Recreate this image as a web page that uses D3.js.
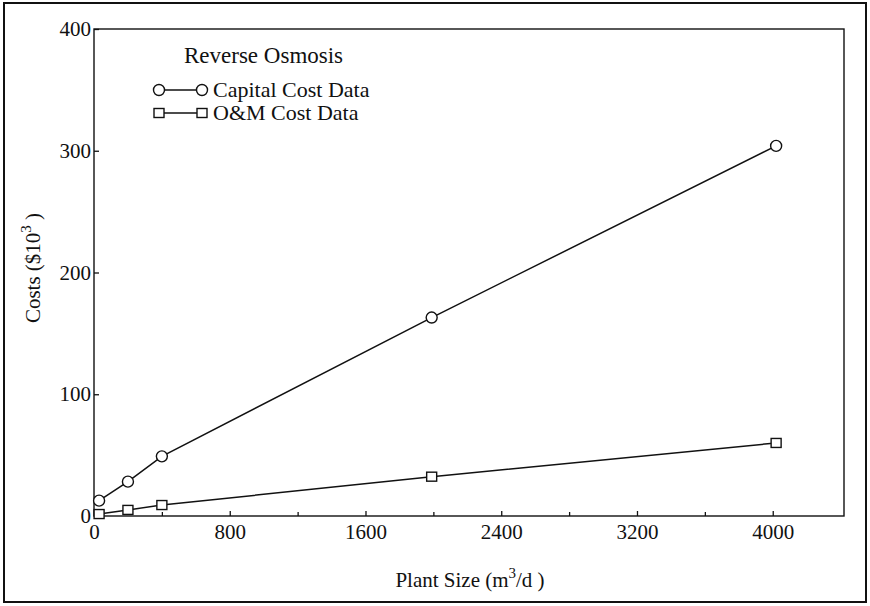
<!DOCTYPE html>
<html>
<head>
<meta charset="utf-8">
<script src="https://cdn.jsdelivr.net/npm/d3@7"></script>
<style>
  body { margin: 0; background: #fff; }
  svg { display: block; font-family: "Liberation Serif", "DejaVu Serif", serif; }
  .axis path, .axis line { stroke: #111; stroke-width: 1.3; }
  .axis text { font-size: 21px; fill: #111; font-family: "Liberation Serif", serif; }
</style>
</head>
<body>
<div id="chart"></div>
<script>
// data
const plantSize = [30, 200, 400, 1990, 4020];
const capitalCost = [12.6, 28.2, 49, 163, 304];
const omCost = [1.6, 5, 9, 32.3, 60];
const xTicks = [0, 800, 1600, 2400, 3200, 4000];
const xMinorTicks = [400, 1200, 2000, 2800, 3600];
const yTicks = [0, 100, 200, 300, 400];

const width = 870, height = 606;
const svg = d3.select("#chart").append("svg")
    .attr("width", width)
    .attr("height", height);

// outer border
svg.append("rect")
    .attr("x", 4).attr("y", 3)
    .attr("width", 862).attr("height", 599)
    .attr("fill", "none")
    .attr("stroke", "#111")
    .attr("stroke-width", 2);

const x = d3.scaleLinear().domain([0, 4420]).range([94, 844]);
const y = d3.scaleLinear().domain([0, 400]).range([516, 29]);

// plot box
svg.append("rect")
    .attr("x", x(0)).attr("y", y(400))
    .attr("width", x(4420) - x(0)).attr("height", y(0) - y(400))
    .attr("fill", "none")
    .attr("stroke", "#111")
    .attr("stroke-width", 1.4);

// x axis, ticks pointing inward
const xAxis = svg.append("g")
    .attr("class", "axis")
    .attr("transform", `translate(0,${y(0)})`)
    .call(d3.axisBottom(x).tickValues(xTicks).tickSize(-5).tickPadding(8).tickFormat(d3.format("d")));
xAxis.select(".domain").remove();

svg.append("g")
    .attr("class", "axis")
    .attr("transform", `translate(0,${y(0)})`)
    .call(d3.axisBottom(x).tickValues(xMinorTicks).tickSize(-4).tickFormat(""))
    .select(".domain").remove();

const yAxis = svg.append("g")
    .attr("class", "axis")
    .attr("transform", `translate(${x(0)},0)`)
    .call(d3.axisLeft(y).tickValues(yTicks).tickSize(-5).tickPadding(3));
yAxis.select(".domain").remove();

// axis titles
const xTitle = svg.append("text")
    .attr("x", 470).attr("y", 587)
    .attr("text-anchor", "middle")
    .attr("font-size", 21)
    .attr("fill", "#111");
xTitle.append("tspan").text("Plant Size (m");
xTitle.append("tspan").attr("dy", -9).attr("font-size", 15).text("3");
xTitle.append("tspan").attr("dy", 9).text("/d )");

const yTitle = svg.append("text")
    .attr("transform", "translate(40,268) rotate(-90)")
    .attr("text-anchor", "middle")
    .attr("font-size", 21)
    .attr("fill", "#111");
yTitle.append("tspan").text("Costs ($10");
yTitle.append("tspan").attr("dy", -9).attr("font-size", 15).text("3");
yTitle.append("tspan").attr("dy", 9).text(" )");

// series
const series = [
  { name: "Capital Cost Data", values: capitalCost, shape: "circle" },
  { name: "O&M Cost Data", values: omCost, shape: "square" }
];

const line = d3.line()
    .x(d => x(d[0]))
    .y(d => y(d[1]));

function drawMarker(g, shape, cx, cy) {
    if (shape === "circle") {
        g.append("circle")
            .attr("cx", cx).attr("cy", cy).attr("r", 5.5)
            .attr("fill", "#fff").attr("stroke", "#111").attr("stroke-width", 1.4);
    } else {
        g.append("rect")
            .attr("x", cx - 5).attr("y", cy - 4.5)
            .attr("width", 10).attr("height", 9)
            .attr("fill", "#fff").attr("stroke", "#111").attr("stroke-width", 1.4);
    }
}

series.forEach(s => {
    const pts = plantSize.map((p, i) => [p, s.values[i]]);
    const g = svg.append("g");
    g.append("path")
        .datum(pts)
        .attr("d", line)
        .attr("fill", "none")
        .attr("stroke", "#111")
        .attr("stroke-width", 1.5);
    pts.forEach(p => drawMarker(g, s.shape, x(p[0]), y(p[1])));
});

// legend
const legend = svg.append("g");
legend.append("text")
    .attr("x", 184).attr("y", 63)
    .attr("font-size", 23)
    .attr("fill", "#111")
    .text("Reverse Osmosis");

series.forEach((s, i) => {
    const ly = 90 + i * 23;
    legend.append("line")
        .attr("x1", 159).attr("x2", 202)
        .attr("y1", ly).attr("y2", ly)
        .attr("stroke", "#111").attr("stroke-width", 1.5);
    drawMarker(legend, s.shape, 159, ly);
    drawMarker(legend, s.shape, 202, ly);
    legend.append("text")
        .attr("x", 213).attr("y", ly + 7)
        .attr("font-size", 22)
        .attr("fill", "#111")
        .text(s.name);
});
</script>
</body>
</html>
